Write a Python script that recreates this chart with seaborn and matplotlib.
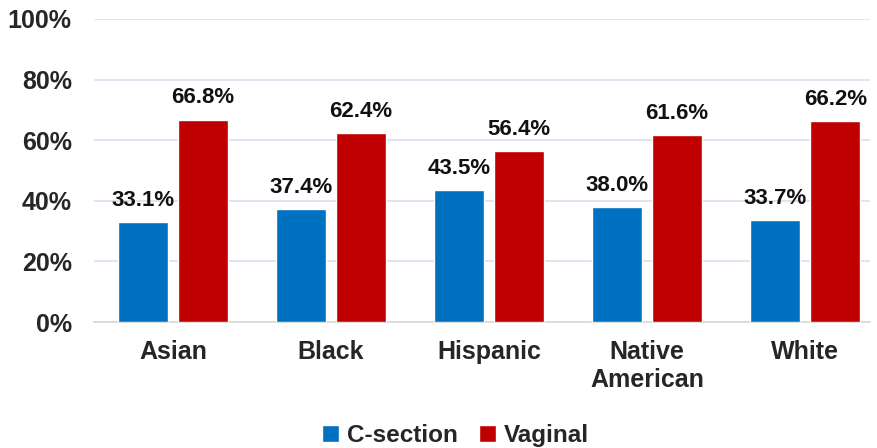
import pandas as pd
import seaborn as sns
import matplotlib.pyplot as plt
from matplotlib.ticker import FuncFormatter

# Datos del gráfico
grupos = ["Asian", "Black", "Hispanic", "Native\nAmerican", "White"]
c_section = [33.1, 37.4, 43.5, 38.0, 33.7]
vaginal = [66.8, 62.4, 56.4, 61.6, 66.2]
series = ["C-section", "Vaginal"]
colores = ["#0070C0", "#C00000"]

df = pd.DataFrame({
    "grupo": grupos * 2,
    "valor": c_section + vaginal,
    "tipo": [series[0]] * len(grupos) + [series[1]] * len(grupos),
})

sns.set_style("white")
plt.rcParams["font.family"] = ["Liberation Sans", "DejaVu Sans"]
plt.rcParams["font.weight"] = "bold"

fig = plt.figure(figsize=(8.78, 4.48), dpi=100)
ax = fig.add_axes([94 / 878, 126 / 448, 776 / 878, 303 / 448])

sns.barplot(data=df, x="grupo", y="valor", hue="tipo", palette=colores,
            saturation=1, width=0.76, gap=0.17, ax=ax, legend=True, zorder=3)

# Etiquetas de los valores
for cont in ax.containers:
    ax.bar_label(cont, labels=[f"{v:.1f}%" for v in cont.datavalues],
                 padding=8, fontsize=16, fontweight="bold", color="#111111")

ax.set_ylim(0, 100)
ax.set_xlim(-0.5, 4.41)
ax.set_yticks(range(0, 101, 20))
ax.yaxis.set_major_formatter(FuncFormatter(lambda v, p: f"{v:.0f}%"))
ax.grid(axis="y", color="#D6E0EE", linewidth=1.2, zorder=0)
ax.set_xlabel("")
ax.set_ylabel("")
ax.tick_params(axis="both", length=0, labelsize=18)
ax.tick_params(axis="y", pad=16)
ax.tick_params(axis="x", pad=13)
for lab in ax.get_xticklabels() + ax.get_yticklabels():
    lab.set_fontweight("bold")
    lab.set_linespacing(1.2)

for s in ["top", "right", "left"]:
    ax.spines[s].set_visible(False)
ax.spines["bottom"].set_color("#D9D9D9")
ax.spines["bottom"].set_linewidth(1.2)

# Leyenda abajo
ax.legend(loc="lower center", bbox_to_anchor=(0.466, -0.485), ncol=2,
          frameon=False, handlelength=0.7, handleheight=0.7,
          handletextpad=0.3, columnspacing=0.9,
          prop={"weight": "bold", "size": 17.5})

fig.savefig("out.png", dpi=100)
